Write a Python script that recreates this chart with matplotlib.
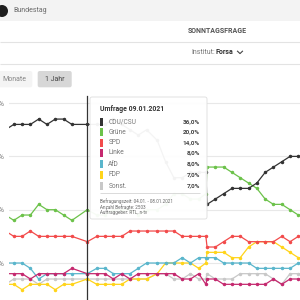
import matplotlib
matplotlib.use('Agg')
import matplotlib.pyplot as plt
import matplotlib.dates as md
import matplotlib.patches as mp
import datetime as dt

plt.rcParams['font.family'] = ['Roboto', 'DejaVu Sans']

# Umfragedaten Forsa (Werte in %)
dates = ['2020-11-01', '2020-11-08', '2020-11-15', '2020-11-22', '2020-11-29', '2020-12-06',
         '2020-12-13', '2020-12-20', '2020-12-27', '2021-01-09', '2021-01-17', '2021-01-24',
         '2021-01-31', '2021-02-07', '2021-02-14', '2021-02-21', '2021-02-28', '2021-03-09',
         '2021-03-16', '2021-03-23', '2021-03-30', '2021-04-06', '2021-04-13', '2021-04-19',
         '2021-04-20', '2021-04-27', '2021-05-04', '2021-05-11', '2021-05-18', '2021-05-25',
         '2021-06-01', '2021-06-08', '2021-06-15', '2021-06-22', '2021-06-29', '2021-07-06',
         '2021-07-13']
cdu   = [35, 36, 36, 36, 37, 36, 37, 37, 36, 36, 36, 36, 37, 36, 35, 34, 35, 33, 29, 26, 26, 27, 27, 27,
         21, 22, 23, 24, 24, 24, 25, 27, 28, 29, 30, 30, 30]
gruene = [19, 18, 19, 19, 21, 20, 20, 19, 18, 20, 19, 19, 20, 20, 20, 19, 20, 20, 21, 23, 23, 22, 22, 23,
          28, 28, 28, 27, 26, 25, 24, 22, 21, 21, 20, 19, 19]
spd   = [16, 15, 15, 16, 15, 15, 15, 15, 15, 14, 15, 15, 15, 15, 16, 16, 16, 16, 16, 16, 15, 15, 15, 15,
         13, 13, 14, 15, 15, 14, 14, 14, 14, 15, 14, 15, 15]
linke = [8, 8, 8, 7, 8, 8, 8, 8, 9, 8, 8, 8, 7, 8, 7, 8, 8, 8, 8, 8, 7, 7, 8, 6,
         7, 7, 6, 6, 6, 6, 6, 6, 7, 6, 7, 7, 7]
afd   = [10, 10, 10, 9, 7, 8, 8, 8, 8, 8, 9, 9, 8, 8, 8, 9, 10, 10, 10, 10, 11, 10, 11, 11,
         11, 11, 10, 10, 10, 10, 9, 9, 9, 9, 9, 10, 10]
fdp   = [6, 6, 5, 6, 6, 6, 5, 6, 6, 7, 6, 6, 6, 6, 7, 7, 7, 8, 10, 10, 10, 10, 9, 10,
         12, 12, 12, 11, 11, 13, 14, 14, 14, 13, 12, 11, 11]
sonst = [6, 7, 7, 7, 6, 7, 7, 7, 7, 7, 7, 7, 7, 7, 7, 7, 7, 8, 8, 7, 7, 8, 7, 7,
         8, 7, 7, 7, 8, 8, 8, 8, 7, 6, 8, 8, 8]

parteien = ['CDU/CSU', 'Grüne', 'SPD', 'Linke', 'AfD', 'FDP', 'Sonst.']
serien = [cdu, gruene, spd, linke, afd, fdp, sonst]
farben = ['#333333', '#6cc24a', '#f24b4b', '#c5296f', '#5ab6cc', '#ffd41a', '#c8c8c8']
tip_datum = '09.01.2021'
tip_werte = [36.0, 20.0, 14.0, 8.0, 8.0, 7.0, 7.0]
y_ticks = [10, 20, 30, 40]

x = [md.date2num(dt.datetime.strptime(d, '%Y-%m-%d')) for d in dates]
ref = md.date2num(dt.datetime(2021, 1, 9))
tag_px = 7 / 8.3  # Tage je Pixel

fig = plt.figure(figsize=(3, 3), dpi=100)

# Diagramm
ax = fig.add_axes([9 / 300, 0, 291 / 300, 208 / 300])
ax.set_xlim(ref + (9 - 87.3) * tag_px, ref + (300 - 87.3) * tag_px)
ax.set_ylim(3.06, 42.08)
for s in ax.spines.values():
    s.set_visible(False)
ax.set_xticks([])
ax.set_yticks(y_ticks)
ax.set_yticklabels(['%d %%' % v for v in y_ticks])
ax.tick_params(axis='y', length=0, pad=3.6, labelsize=5.5, labelcolor='#777777')
ax.grid(axis='y', color='#e8e8e8', lw=0.8)
ax.set_axisbelow(True)

for werte, c in zip(serien[::-1], farben[::-1]):
    ax.plot(x, werte, color=c, lw=0.9, marker='o', ms=1.5, zorder=3)

ax.axvline(ref, ymax=(300 - 96) / 208, color='#333333', lw=0.9, zorder=4)

# Überlagerung in Pixelkoordinaten
ov = fig.add_axes([0, 0, 1, 1], zorder=5)
ov.set_xlim(0, 300)
ov.set_ylim(300, 0)
ov.axis('off')

ov.add_patch(mp.Rectangle((0, 0), 300, 20.5, fc='#f3f3f3', ec='none'))
ov.add_patch(mp.Circle((2, 11), 6, fc='#1e1e1e', ec='none'))
ov.text(13, 10.5, 'Bundestag', fontsize=5, color='#6b6b6b', va='center')
ov.hlines([42, 63.5], 0, 300, color='#e3e3e3', lw=0.8)
ov.text(217.5, 31, 'SONNTAGSFRAGE', fontsize=5.0, weight='bold', color='#555555',
        ha='center', va='center')
ov.text(191.5, 52.5, 'Institut:', fontsize=5, color='#777777', va='center')
ov.text(216, 52.5, 'Forsa', fontsize=5, weight='bold', color='#333333', va='center')
ov.plot([237.5, 240, 242.5], [51.2, 53.6, 51.2], color='#444444', lw=0.8)

ov.add_patch(mp.FancyBboxPatch((-5, 71), 37.3, 16.3, boxstyle='round,pad=0,rounding_size=2',
                               fc='#f4f4f4', ec='none'))
ov.text(2.7, 79.5, 'Monate', fontsize=5, color='#888888', va='center')
ov.add_patch(mp.FancyBboxPatch((37.7, 71), 34, 16.3, boxstyle='round,pad=0,rounding_size=2',
                               fc='#d7d7d7', ec='none'))
ov.text(55, 79.5, '1 Jahr', fontsize=5, color='#444444', ha='center', va='center')

# Tooltip
ov.add_patch(mp.FancyBboxPatch((90, 97), 117, 122, boxstyle='round,pad=0,rounding_size=2',
                               fc=(1, 1, 1, 0.95), ec='#dddddd', lw=0.6))
ov.text(100, 109, 'Umfrage ' + tip_datum, fontsize=4.95, weight='bold', color='#333333', va='center')
zeilen_y = [121.7, 132, 143, 153, 164, 175, 186]
for name, c, w, yy in zip(parteien, farben, tip_werte, zeilen_y):
    ov.add_patch(mp.Rectangle((100, yy - 4), 3.3, 8, fc=c, ec='none'))
    ov.text(108.3, yy, name, fontsize=4.8, color='#777777', va='center')
    ov.text(200, yy, ('%.1f%%' % w).replace('.', ','), fontsize=4.6, weight='bold',
            color='#444444', ha='right', va='center')
ov.hlines(192.5, 100, 200, color='#cccccc', lw=0.5)
for t, yy in zip(['Befragungszeit: 04.01. - 08.01.2021', 'Anzahl Befragte: 2503',
                  'Auftraggeber: RTL, n-tv'], [201.5, 206.7, 211.8]):
    ov.text(100, yy, t, fontsize=3.3, color='#666666', va='center')

fig.savefig('out.png', dpi=100)
